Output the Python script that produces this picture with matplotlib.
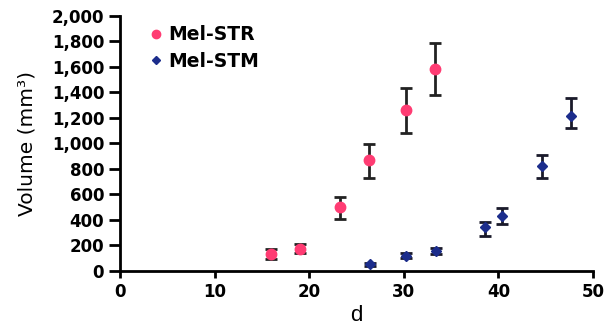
import matplotlib
matplotlib.use("Agg")
import matplotlib.pyplot as plt

str_d = [16.0, 19.0, 23.2, 26.3, 30.2, 33.3]
str_vol = [135, 175, 500, 870, 1265, 1585]
str_err_lo = [40, 35, 90, 140, 185, 205]
str_err_hi = [35, 35, 75, 125, 170, 200]

stm_d = [26.4, 30.2, 33.4, 38.6, 40.4, 44.6, 47.7]
stm_vol = [50, 120, 155, 340, 430, 820, 1215]
stm_err_lo = [10, 20, 25, 70, 60, 95, 95]
stm_err_hi = [10, 20, 25, 45, 65, 85, 140]

xticks = [0, 10, 20, 30, 40, 50]
yticks = list(range(0, 2001, 200))

plt.rcParams['font.family'] = ['DejaVu Sans']

fig = plt.figure(figsize=(6.1, 3.36), dpi=100)
ax = fig.add_axes([0.197, 0.194, 0.775, 0.759])

ax.errorbar(str_d, str_vol, yerr=[str_err_lo, str_err_hi], fmt='o', color='#ff3c73',
            markersize=7.5, ecolor='#222222', elinewidth=2, capsize=4, capthick=2,
            label='Mel-STR', zorder=3)
ax.errorbar(stm_d, stm_vol, yerr=[stm_err_lo, stm_err_hi], fmt='D', color='#1c2d8c',
            markersize=5, ecolor='#1a1a2a', elinewidth=2, capsize=4, capthick=2,
            label='Mel-STM', zorder=3)

ax.set_xlim(0, 50)
ax.set_ylim(0, 2000)
ax.set_xticks(xticks)
ax.set_yticks(yticks)
ax.set_yticklabels([f"{v:,}" for v in yticks])
for lab in ax.get_xticklabels() + ax.get_yticklabels():
    lab.set_fontweight('bold')
for s in ['top', 'right']:
    ax.spines[s].set_visible(False)
for s in ['left', 'bottom']:
    ax.spines[s].set_linewidth(2)
ax.tick_params(axis='both', direction='out', width=2, labelsize=12)
ax.tick_params(axis='y', length=8, pad=3.5)
ax.tick_params(axis='x', length=5, pad=4)
ax.set_xlabel('d', fontsize=16, fontfamily='Liberation Sans', labelpad=3)
ax.set_ylabel('Volume (mm³)', fontsize=14.5, labelpad=11)

handles, labels = ax.get_legend_handles_labels()
leg = ax.legend([h[0] for h in handles], labels, loc='upper left', frameon=False,
                prop={'family': 'DejaVu Sans', 'weight': 'bold', 'size': 13.5},
                handletextpad=0.25, handlelength=0.8, markerscale=0.8,
                borderaxespad=0.1, bbox_to_anchor=(0.04, 1.0), labelspacing=0.4)

fig.savefig('out.png', dpi=100)
